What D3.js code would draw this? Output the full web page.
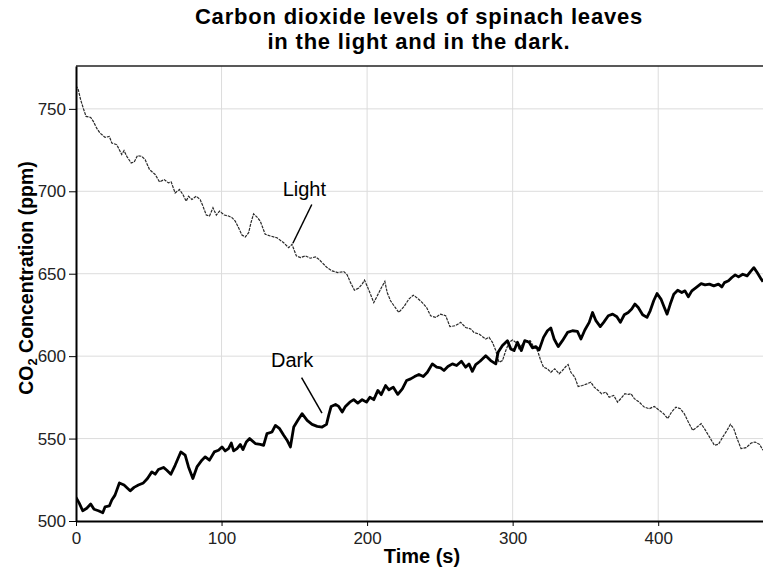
<!DOCTYPE html>
<html>
<head>
    <title>Carbon dioxide levels of spinach leaves</title>
    <script src="https://d3js.org/d3.v7.min.js"></script>
    <style>
        body {
            margin: 0;
            background: #fff;
            font-family: "Liberation Sans", Arial, sans-serif;
        }
        .grid line {
            stroke: #dcdcdc;
            stroke-width: 1;
        }
        .axis text {
            font-size: 17px;
            fill: #222;
        }
        .axis path, .axis line {
            stroke: #000;
        }
        .axis path {
            stroke-width: 2;
        }
    </style>
</head>
<body>
    <div id="chart"></div>
    <script>
        // time (s) and CO2 (ppm)
        const lightTime = [0,1.6,3.2,5,6.9,10.1,11.9,14.2,16.5,20,
            22.9,24.6,28,31.4,33,34.9,37.9,40,42.2,45.2,
            47.5,50.5,54.4,57.4,60.6,63.5,65.4,68.1,71.1,73.4,
            75.7,77.3,79.6,82.6,85.3,87.2,89.5,91.7,94.1,96.4,
            98.6,101.9,104.8,107.2,109.4,111.7,114,116.3,118.6,120.2,
            122,124.4,126.6,130,133.5,138.1,142.7,146.1,148.4,151.4,
            154.2,157.6,161,164.5,166.8,169.1,172.5,176,179.8,184,
            186.3,188.6,191.3,194.3,196.6,198.2,200,202.3,204.6,207,
            209.7,212.2,213.8,216.1,218.9,221.8,225.3,228.7,231.7,234.5,
            237.9,240.9,243.6,247.1,250.5,254,256.9,260.8,264.3,267.7,
            271.2,273.4,276.9,281.5,283.8,286.1,288.4,290.6,293,295.3,
            297.5,299.9,302.1,304.4,306.7,309,312,314.7,317.1,319.3,
            321.2,323.9,326.2,328.9,331.9,334.2,336.5,338.1,340,342.7,
            345,348,351,353.7,356,358.8,361.1,364.1,366.3,369.4,
            372.1,374.9,377.1,379.4,381.3,383.6,387,390.4,393.9,397.3,
            400.8,403.7,406.5,409.2,412.2,415.2,417.9,420.7,423.7,426.7,
            429.5,432.2,435.2,438.6,441.4,444.4,447.3,449.6,451.9,454.2,
            456.9,460.4,463.9,466.6,469.6,472];
        const lightCO2 = [764.1,761.5,755.5,750.4,745.4,744.8,742.4,738.3,735.3,732.7,
            733.3,729.3,728.3,722.3,724.7,721.2,717.2,717.8,721.6,721.2,
            719.2,713.2,710.2,705.7,707.1,705.1,705.7,699,701.1,698.1,
            694,697,695,697,695,691,685.6,685,690,685.6,
            688,685.6,685,684,681.9,677.9,673.5,672.3,674.9,680.9,
            686.3,684.3,681.9,673.9,672.9,671.8,668.8,665.8,667.8,660.8,
            659.8,660.8,659.4,660.2,658.8,656.7,653.7,651.7,650.7,651.3,
            649.3,644.6,640,641.3,643.7,646.1,642.6,637.6,632.5,636.6,
            641.3,645.3,638.6,633.6,630,626.5,630,634.6,637,635.2,
            632.5,629.5,624.5,623.5,625.5,624.5,617.9,618.5,620.5,617.4,
            616.5,614.4,613.4,610.4,611.4,608.4,603.4,596.3,597.3,603.4,
            608.4,609.8,608.4,604.4,607.4,609.4,609.4,605.3,603.4,597.3,
            593.3,592.3,590.2,592.3,589.3,591.3,593.7,594.9,590.2,587.2,
            581.6,582.2,583.2,584.2,581.2,579.2,577.2,578.2,575.1,576.2,
            572.1,574.8,577.2,576.8,577.2,574.2,572.1,569.1,568.1,569.5,
            567.1,565.1,562.1,566.1,569.1,568.1,565.1,560,555,557,
            559,555.4,551,546,546.5,551,555,558.6,556,550,
            543.9,544.5,547.3,547.9,546.5,542.9];

        const darkTime = [0,2.3,4.6,7.4,10.1,12.4,15.4,18.4,20,22.9,
            24.6,26.8,29.8,33,37.2,39.9,42.9,46.3,49.1,52.1,
            54.4,56.6,60.1,62.4,65.2,68.1,72,75,77.3,80.3,
            83.1,86.5,88.8,91.7,95,97.9,100.3,102.5,104.8,106.7,
            108.3,110.6,112.9,114.7,117,119.3,123.2,126.6,128.9,131.2,
            134.7,137,139.9,142.7,145,147.3,149.6,152.3,155.3,158.8,
            162.2,165.7,169.1,172.1,173.6,175.3,178.3,180.5,182.9,185.1,
            188.1,190.8,193.6,196.6,199.6,201.9,204.6,207.4,209.7,212.7,
            215,218,221.1,224.2,227.1,229.9,232.6,235.6,238.6,241.4,
            244.8,247.8,250.5,252.8,255.5,258.6,261.5,264.8,267.7,270,
            272.3,274.6,277.6,281.5,284.9,288.4,290,293,296.4,298.7,
            301,303.3,306,308.3,311.3,313.6,315.9,318.2,321.2,323.9,
            326.2,328.5,331.3,334.2,337.7,341.1,344.5,346.9,349.6,352.6,
            354.9,357.2,360.2,362.5,365.7,368.7,371.6,374,376.7,379.4,
            381.8,384,386.3,389.3,392.3,394.5,396.9,399.2,401.9,404.2,
            406.1,408.3,410.7,413.4,416.2,418.4,420.7,423.1,426,429.5,
            432.2,435.2,438.2,441.4,443.7,445.5,448.3,450.6,452.9,455.2,
            458.1,461.1,463.4,465.7,468,470.8,472];
        const darkCO2 = [514.3,510.7,506.2,507.7,510.3,507.1,506.2,505,508.6,509.1,
            512.7,515.7,523.1,521.8,518.3,520.4,521.8,523.1,525.8,529.8,
            528.4,531.2,532.5,530.8,528.4,533.8,541.9,539.9,532.8,525.8,
            532.8,536.9,538.9,536.9,541.9,542.9,544.9,542.5,543.9,547.3,
            542.5,543.9,546.4,543.3,547.9,550,547,546.5,545.9,553,
            554,558,556,552,549,544.9,557,561,565.1,561,
            558.6,557.4,557,558.6,564.1,569.5,570.7,569.5,566.1,569.5,
            572.1,573.6,571.5,573.6,572.1,575.1,573.6,579.2,576.6,582.2,
            579.6,581.2,576.8,580.2,585.2,586.2,587.6,588.9,587.6,590.2,
            595.3,593.3,592.9,591.3,593.7,595.3,594.3,596.9,593.3,595.3,
            590.8,594.9,596.9,600.3,597.3,595.3,602.3,606.4,609.4,604.4,
            603.4,608.4,603.4,609.4,608.4,605,605.8,603.8,611.4,615.4,
            617.1,610.4,605.8,609.4,614.4,615.4,615,610.4,615.9,620.5,
            626.5,621.5,617.9,620.5,624.5,625.5,623.9,620.5,625.1,626.5,
            628.6,631.6,629.5,625.1,623.5,627.5,633.6,638,634.6,629.5,
            625.5,631.6,637.6,640,638.6,639.6,636,639.6,641.6,644,
            643.2,643.7,642.6,643.7,642,644.6,645.7,647.7,649.3,648.1,
            649.7,648.7,651.3,653.7,650.7,646.7,645.2];

        const xTicks = [0, 100, 200, 300, 400];
        const yTicks = [500, 550, 600, 650, 700, 750];
        const titleLines = ["Carbon dioxide levels of spinach leaves", "in the light and in the dark."];

        // label text, label anchor (t, ppm), leader line from / to (t, ppm)
        const callouts = [
            { label: "Light", t: 142, v: 697, t1: 162, v1: 692, t2: 149, v2: 668.5 },
            { label: "Dark", t: 134, v: 593.5, t1: 155, v1: 587, t2: 169, v2: 565.5 }
        ];

        const W = 763, H = 568;
        const margin = { top: 66, right: 0, bottom: 47, left: 76 };

        const svg = d3.select("#chart").append("svg")
            .attr("width", W)
            .attr("height", H);

        const x = d3.scaleLinear().domain([0, 472]).range([margin.left, W - margin.right]);
        const y = d3.scaleLinear().domain([500, 776]).range([H - margin.bottom, margin.top]);

        svg.append("defs").append("clipPath").attr("id", "plot")
            .append("rect")
            .attr("x", x(0)).attr("y", y(776))
            .attr("width", x(472) - x(0)).attr("height", y(500) - y(776));

        // gridlines
        const grid = svg.append("g").attr("class", "grid");
        grid.selectAll(".gx").data(xTicks.filter(d => d > 0)).enter().append("line")
            .attr("x1", d => x(d)).attr("x2", d => x(d))
            .attr("y1", y(776)).attr("y2", y(500));
        grid.selectAll(".gy").data(yTicks.filter(d => d > 500)).enter().append("line")
            .attr("x1", x(0)).attr("x2", x(472))
            .attr("y1", d => y(d)).attr("y2", d => y(d));

        // top frame line
        svg.append("line")
            .attr("x1", x(0)).attr("x2", x(472))
            .attr("y1", y(776)).attr("y2", y(776))
            .attr("stroke", "#222").attr("stroke-width", 1.5);

        const line = d3.line().x(d => x(d[0])).y(d => y(d[1]));

        const plot = svg.append("g").attr("clip-path", "url(#plot)");

        plot.append("path")
            .datum(d3.zip(lightTime, lightCO2))
            .attr("fill", "none")
            .attr("stroke", "#2a2a2a")
            .attr("stroke-width", 1.2)
            .attr("stroke-dasharray", "3,1")
            .attr("d", line);

        plot.append("path")
            .datum(d3.zip(darkTime, darkCO2))
            .attr("fill", "none")
            .attr("stroke", "#000")
            .attr("stroke-width", 2.8)
            .attr("stroke-linejoin", "round")
            .attr("d", line);

        // axes
        svg.append("g")
            .attr("class", "axis")
            .attr("transform", `translate(0,${y(500)})`)
            .call(d3.axisBottom(x).tickValues(xTicks).tickSize(5).tickPadding(6).tickSizeOuter(0));

        svg.append("g")
            .attr("class", "axis")
            .attr("transform", `translate(${x(0)},0)`)
            .call(d3.axisLeft(y).tickValues(yTicks).tickSize(7).tickPadding(3).tickSizeOuter(0));

        // callouts
        callouts.forEach(c => {
            svg.append("text")
                .attr("x", x(c.t)).attr("y", y(c.v))
                .attr("font-size", 20)
                .attr("fill", "#000")
                .text(c.label);
            svg.append("line")
                .attr("x1", x(c.t1)).attr("y1", y(c.v1))
                .attr("x2", x(c.t2)).attr("y2", y(c.v2))
                .attr("stroke", "#000").attr("stroke-width", 1.5);
        });

        // title
        svg.selectAll(".title").data(titleLines).enter().append("text")
            .attr("class", "title")
            .attr("x", 419)
            .attr("y", (d, i) => 24 + i * 25)
            .attr("text-anchor", "middle")
            .attr("font-size", 22)
            .attr("letter-spacing", 0.8)
            .attr("font-weight", "bold")
            .text(d => d);

        // axis titles
        svg.append("text")
            .attr("x", 422).attr("y", 563)
            .attr("text-anchor", "middle")
            .attr("font-size", 20)
            .attr("font-weight", "bold")
            .text("Time (s)");

        const yl = svg.append("text")
            .attr("transform", "translate(33,278) rotate(-90)")
            .attr("text-anchor", "middle")
            .attr("font-size", 19.5)
            .attr("font-weight", "bold");
        yl.append("tspan").text("CO");
        yl.append("tspan").attr("font-size", 13).attr("dy", 4).text("2");
        yl.append("tspan").attr("dy", -4).text(" Concentration (ppm)");
    </script>
</body>
</html>
